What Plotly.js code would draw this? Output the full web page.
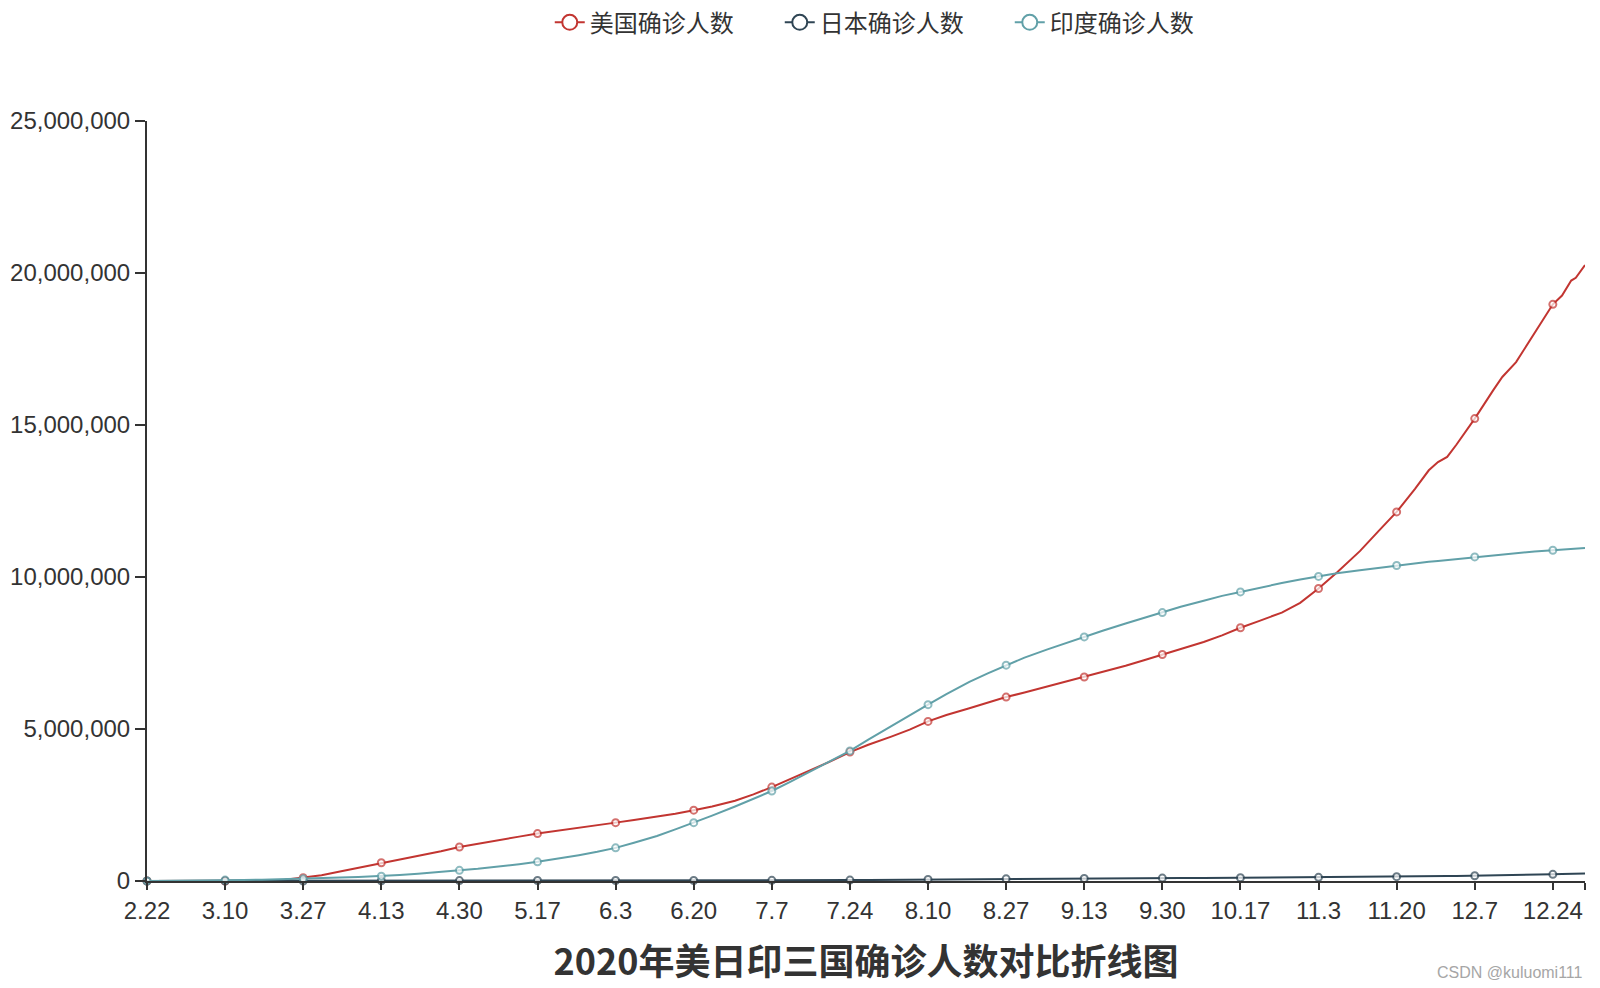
<!DOCTYPE html>
<html>
<head>
<meta charset="utf-8">
<script src="https://cdn.plot.ly/plotly-3.0.1.min.js"></script>
<style>
  html, body { margin: 0; padding: 0; background: #fff; }
  #chart { width: 1600px; height: 988px; }
</style>
</head>
<body>
<div id="chart"></div>
<script>
// sample dates (2020)
var dates = [
  "2020-02-22", "2020-03-01", "2020-03-10", "2020-03-14", "2020-03-18", "2020-03-23", "2020-03-27", "2020-03-31",
  "2020-04-04", "2020-04-08", "2020-04-13", "2020-04-17", "2020-04-21", "2020-04-26", "2020-04-30",
  "2020-05-04", "2020-05-09", "2020-05-13", "2020-05-17", "2020-05-21", "2020-05-26", "2020-05-30",
  "2020-06-03", "2020-06-07", "2020-06-12", "2020-06-16", "2020-06-20", "2020-06-24", "2020-06-29",
  "2020-07-03", "2020-07-07", "2020-07-11", "2020-07-16", "2020-07-20", "2020-07-24", "2020-07-28",
  "2020-08-02", "2020-08-06", "2020-08-10", "2020-08-14", "2020-08-19", "2020-08-23", "2020-08-27", "2020-08-31",
  "2020-09-05", "2020-09-09", "2020-09-13", "2020-09-17", "2020-09-22", "2020-09-26", "2020-09-30",
  "2020-10-04", "2020-10-09", "2020-10-13", "2020-10-17", "2020-10-21", "2020-10-26", "2020-10-30",
  "2020-11-03", "2020-11-07", "2020-11-12", "2020-11-16", "2020-11-20", "2020-11-24", "2020-11-27", "2020-11-29",
  "2020-12-01", "2020-12-03", "2020-12-07", "2020-12-11", "2020-12-13", "2020-12-16", "2020-12-20",
  "2020-12-24", "2020-12-26", "2020-12-28", "2020-12-29", "2020-12-31"
];

var usCases = [
  35, 75, 1000, 3500, 9000, 45000, 110000, 190000,
  310000, 430000, 600000, 720000, 840000, 980000, 1120000,
  1230000, 1360000, 1460000, 1560000, 1640000, 1740000, 1830000,
  1920000, 2010000, 2110000, 2210000, 2330000, 2450000, 2640000,
  2850000, 3090000, 3350000, 3680000, 3950000, 4240000, 4480000,
  4750000, 4980000, 5250000, 5460000, 5680000, 5860000, 6050000, 6200000,
  6400000, 6540000, 6710000, 6870000, 7080000, 7260000, 7450000,
  7630000, 7860000, 8080000, 8330000, 8550000, 8830000, 9150000,
  9620000, 10150000, 10850000, 11500000, 12140000, 12900000, 13510000, 13780000,
  13950000, 14350000, 15210000, 16140000, 16580000, 17070000, 18000000,
  18970000, 19260000, 19750000, 19840000, 20260000
];

var japanCases = [
  100, 250, 600, 800, 900, 1100, 1500, 2000,
  3000, 5000, 8000, 10000, 11500, 13000, 14000,
  15000, 15800, 16200, 16500, 16600, 16700, 16900,
  17000, 17200, 17500, 17800, 18000, 18500, 19000,
  20000, 21000, 22000, 24000, 26000, 29000, 32000,
  38000, 43000, 50000, 55000, 60000, 65000, 70000, 73000,
  77000, 80000, 83000, 86000, 89000, 92000, 95000,
  97000, 100000, 103000, 106000, 109000, 113000, 117000,
  120000, 124000, 130000, 136000, 142000, 150000, 155000, 158000,
  162000, 166000, 172000, 180000, 185000, 195000, 207000,
  220000, 228000, 236000, 240000, 250000
];

var indiaCases = [
  0, 5000, 30000, 35000, 40000, 55000, 70000, 95000,
  115000, 135000, 160000, 200000, 240000, 290000, 350000,
  400000, 470000, 550000, 630000, 720000, 850000, 960000,
  1090000, 1260000, 1480000, 1700000, 1920000, 2150000, 2450000,
  2700000, 2960000, 3260000, 3650000, 3970000, 4280000, 4650000,
  5100000, 5450000, 5800000, 6150000, 6550000, 6830000, 7100000, 7350000,
  7620000, 7830000, 8030000, 8230000, 8470000, 8660000, 8830000,
  9020000, 9220000, 9380000, 9510000, 9650000, 9800000, 9920000,
  10020000, 10120000, 10220000, 10300000, 10380000, 10450000, 10500000, 10530000,
  10560000, 10600000, 10660000, 10720000, 10750000, 10790000, 10840000,
  10880000, 10900000, 10920000, 10930000, 10950000
];

var tickDates = [
  "2020-02-22", "2020-03-10", "2020-03-27", "2020-04-13", "2020-04-30", "2020-05-17", "2020-06-03",
  "2020-06-20", "2020-07-07", "2020-07-24", "2020-08-10", "2020-08-27", "2020-09-13", "2020-09-30",
  "2020-10-17", "2020-11-03", "2020-11-20", "2020-12-07", "2020-12-24"
];
var tickLabels = [
  "2.22", "3.10", "3.27", "4.13", "4.30", "5.17", "6.3", "6.20", "7.7", "7.24",
  "8.10", "8.27", "9.13", "9.30", "10.17", "11.3", "11.20", "12.7", "12.24"
];

var seriesNames = ["美国确诊人数", "日本确诊人数", "印度确诊人数"];
var colors = ["#c23531", "#2f4554", "#61a0a8"];

// symbols only on the labelled days
var markerSizes = dates.map(function (d) {
  return tickDates.indexOf(d) >= 0 ? 7 : 0;
});

function makeTrace(name, values, color) {
  return {
    x: dates,
    y: values,
    name: name,
    legendgroup: name,
    showlegend: false,
    type: "scatter",
    mode: "lines+markers",
    cliponaxis: false,
    line: { color: color, width: 2 },
    marker: {
      symbol: "circle",
      size: markerSizes,
      color: "#ffffff",
      line: { color: color, width: 2 },
    },
  };
}

// legend-only entries, so the legend symbol can be bigger than the plot symbols
function makeLegendEntry(name, color) {
  return {
    x: [null],
    y: [null],
    name: name,
    legendgroup: name,
    type: "scatter",
    mode: "lines+markers",
    line: { color: color, width: 2 },
    marker: { symbol: "circle", size: 15, color: "#ffffff", line: { color: color, width: 2 } },
  };
}

var data = [
  makeTrace(seriesNames[0], usCases, colors[0]),
  makeTrace(seriesNames[1], japanCases, colors[1]),
  makeTrace(seriesNames[2], indiaCases, colors[2]),
  makeLegendEntry(seriesNames[0], colors[0]),
  makeLegendEntry(seriesNames[1], colors[1]),
  makeLegendEntry(seriesNames[2], colors[2]),
];

var layout = {
  width: 1600,
  height: 988,
  margin: { l: 147, r: 15, t: 121, b: 107 },
  paper_bgcolor: "#ffffff",
  plot_bgcolor: "#ffffff",
  font: { family: "Liberation Sans, Noto Sans CJK SC, sans-serif", size: 24, color: "#333" },
  title: {
    text: "2020年美日印三国确诊人数对比折线图",
    font: { family: "Noto Sans CJK SC, sans-serif", size: 36, color: "#333", weight: "bold" },
    xref: "paper",
    x: 0.5,
    xanchor: "center",
    yref: "container",
    y: 0.026,
    yanchor: "middle",
  },
  showlegend: true,
  legend: {
    orientation: "h",
    xref: "paper",
    x: 0.52,
    xanchor: "center",
    yref: "container",
    y: 0.977,
    yanchor: "middle",
    itemsizing: "trace",
    entrywidth: 185,
    entrywidthmode: "pixels",
    tracegroupgap: 0,
    font: { family: "Noto Sans CJK SC, sans-serif", size: 24, color: "#333" },
  },
  xaxis: {
    type: "date",
    range: ["2020-02-22", "2020-12-31"],
    tickvals: tickDates.concat(["2020-12-31"]),
    ticktext: tickLabels.concat([""]),
    ticks: "outside",
    ticklen: 7,
    tickwidth: 2,
    tickcolor: "#333",
    showline: true,
    linecolor: "#333",
    linewidth: 2,
    showgrid: false,
    zeroline: false,
    tickfont: { size: 24, color: "#333" },
  },
  yaxis: {
    range: [0, 25000000],
    dtick: 5000000,
    tickformat: ",d",
    ticks: "outside",
    ticklen: 10,
    tickwidth: 2,
    tickcolor: "#333",
    showline: true,
    linecolor: "#333",
    linewidth: 2,
    showgrid: false,
    zeroline: false,
    tickfont: { size: 24, color: "#333" },
  },
  annotations: [
    {
      text: "CSDN @kuluomi111",
      xref: "paper",
      yref: "paper",
      x: 1.0,
      xanchor: "right",
      y: -0.12,
      yanchor: "middle",
      showarrow: false,
      font: { family: "Liberation Sans, sans-serif", size: 16, color: "#a6a6a6" },
    },
  ],
};

Plotly.newPlot("chart", data, layout, { displayModeBar: false, responsive: false });
</script>
</body>
</html>
